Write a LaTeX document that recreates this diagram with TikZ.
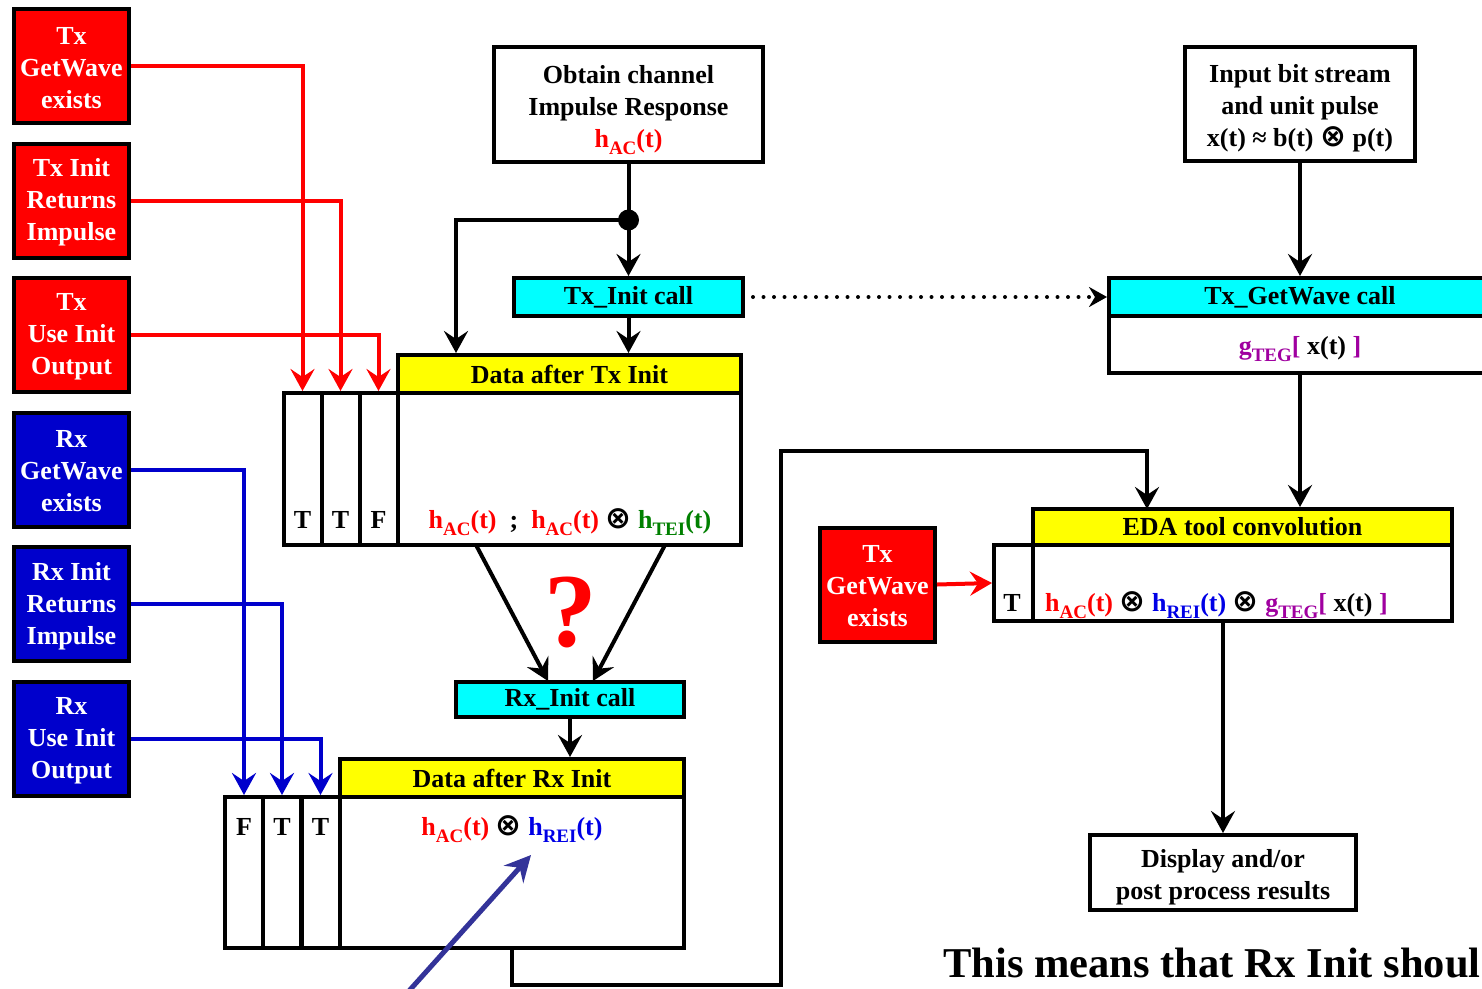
\documentclass[tikz,border=0pt]{standalone}
\usepackage{fontspec}
\setmainfont{Liberation Serif}
\newfontfamily\symf{DejaVu Sans}
\usetikzlibrary{arrows.meta,calc}
\definecolor{bluefill}{RGB}{0,0,204}
\definecolor{myred}{RGB}{255,0,0}
\definecolor{mygreen}{RGB}{0,128,0}
\definecolor{myblue}{RGB}{0,0,230}
\definecolor{mypurple}{RGB}{160,0,160}
\definecolor{navyarrow}{RGB}{51,51,153}
\definecolor{mycyan}{RGB}{0,255,255}
\definecolor{myyellow}{RGB}{255,255,0}
\newcommand{\lsub}[1]{\raisebox{-7pt}{\fontsize{19}{19}\selectfont #1}}
\newcommand{\otm}{{\symf\bfseries\fontsize{31}{31}\selectfont ⊗}}
\newcommand{\hac}{\textcolor{myred}{h\lsub{AC}(t)}}
\newcommand{\tstr}[1]{\rule{0pt}{#1}}
\begin{document}
\begin{tikzpicture}[x=1pt,y=-1pt,
  every node/.style={inner sep=0pt, font=\fontsize{26}{32}\selectfont\bfseries},
  box/.style={draw, line width=4pt, align=center, fill=white},
  redbox/.style={box, fill=myred, text=white, minimum width=115pt, minimum height=114pt},
  bluebox/.style={redbox, fill=bluefill},
  callbox/.style={box, fill=mycyan},
  headbox/.style={box, fill=myyellow},
  flagbox/.style={box},
  flow/.style={line width=4pt, -{Stealth[length=22pt,width=24pt,inset=8pt]}},
  redflow/.style={flow, draw=myred, -{Stealth[length=22pt,width=24pt,inset=8pt,fill=myred]}},
  blueflow/.style={flow, draw=bluefill},
  navyflow/.style={line width=5pt, draw=navyarrow, -{Stealth[length=26pt,width=26pt,inset=9pt]}},
  dotflow/.style={line width=4pt, line cap=round, dash pattern=on 0pt off 10.5pt, -{Stealth[length=18pt,width=20pt,inset=6pt]}}
]
\useasboundingbox (0,0) rectangle (1482,988);
\clip (0,0) rectangle (1482,988);

% left condition boxes
\node[redbox] (txgw) at (71.5,66) {\tstr{21pt}Tx\\GetWave\\exists};
\node[redbox] (txir) at (71.5,200.5) {\tstr{22pt}Tx Init\\Returns\\Impulse};
\node[redbox] (txuo) at (71.5,335) {\tstr{21pt}Tx\\Use Init\\Output};
\node[bluebox] (rxgw) at (71.5,469.5) {\tstr{21pt}Rx\\GetWave\\exists};
\node[bluebox] (rxir) at (71.5,604) {\tstr{22pt}Rx Init\\Returns\\Impulse};
\node[bluebox] (rxuo) at (71.5,738.5) {\tstr{21pt}Rx\\Use Init\\Output};

% top boxes
\node[box, minimum width=269pt, minimum height=115pt] (obtain) at (628.5,104.5) {\tstr{29pt}Obtain channel\\Impulse Response\\\hac};
\node[box, minimum width=230pt, minimum height=114pt] (input) at (1300,104) {\tstr{27pt}Input bit stream\\and unit pulse\\x(t) ≈ b(t) \otm\ p(t)};
\node[callbox, minimum width=229pt, minimum height=38pt] (txinit) at (628.5,297) {Tx\_Init call};
\node[callbox, minimum width=382pt, minimum height=38pt] (txgwc) at (1300,297) {Tx\_GetWave call};
\node[box, minimum width=382pt, minimum height=57pt] (txgwb) at (1300,344.5) {\tstr{27pt}\textcolor{mypurple}{g\lsub{TEG}[} x(t) \textcolor{mypurple}{]}};

% data after Tx Init
\node[headbox, minimum width=343pt, minimum height=38pt] (txdh) at (569.5,374) {Data after Tx Init};
\node[box, minimum width=343pt, minimum height=152pt] (txdb) at (569.5,469) {};
\node[flagbox, minimum width=38pt, minimum height=152pt] (tf1) at (302.5,469) {};
\node[flagbox, minimum width=38pt, minimum height=152pt] (tf2) at (340.5,469) {};
\node[flagbox, minimum width=38pt, minimum height=152pt] (tf3) at (378.5,469) {};
\node[anchor=base] (tl1) at (302.5,528) {T};
\node[anchor=base] (tl2) at (340.5,528) {T};
\node[anchor=base] (tl3) at (378.5,528) {F};
\node[anchor=base] (txf) at (570,528) {\hac\ \ ;\ \ \hac\ \otm\ \textcolor{mygreen}{h\lsub{TEI}(t)}};

% question and Rx init call
\node[text=myred, font=\fontsize{105}{105}\selectfont\bfseries] (qm) at (571,612) {?};
\node[callbox, minimum width=228pt, minimum height=35pt] (rxinit) at (570,699.5) {Rx\_Init call};

% data after Rx Init
\node[headbox, minimum width=344pt, minimum height=38pt] (rxdh) at (512,778) {Data after Rx Init};
\node[box, minimum width=344pt, minimum height=151pt] (rxdb) at (512,872.5) {};
\node[flagbox, minimum width=38pt, minimum height=151pt] (rf1) at (244,872.5) {};
\node[flagbox, minimum width=38pt, minimum height=151pt] (rf2) at (282,872.5) {};
\node[flagbox, minimum width=38pt, minimum height=151pt] (rf3) at (320.5,872.5) {};
\node[anchor=base] (rl1) at (244,835) {F};
\node[anchor=base] (rl2) at (282,835) {T};
\node[anchor=base] (rl3) at (320.5,835) {T};
\node[anchor=base] (rxf) at (512,835) {\hac\ \otm\ \textcolor{myblue}{h\lsub{REI}(t)}};

% EDA block
\node[headbox, minimum width=419pt, minimum height=36pt] (edah) at (1242.5,527) {EDA tool convolution};
\node[box, minimum width=419pt, minimum height=76pt] (edab) at (1242.5,583) {};
\node[flagbox, minimum width=39pt, minimum height=76pt] (edaf) at (1013.5,583) {};
\node[anchor=base] (edat) at (1012,611) {T};
\node[anchor=base west] (edaform) at (1045,611) {\hac\ \otm\ \textcolor{myblue}{h\lsub{REI}(t)}\ \otm\ \textcolor{mypurple}{g\lsub{TEG}[} x(t) \textcolor{mypurple}{]}};
\node[redbox] (txgw2) at (877.5,584.5) {\tstr{21pt}Tx\\GetWave\\exists};
\node[box, minimum width=266pt, minimum height=75pt] (disp) at (1223,872.5) {\tstr{27pt}Display and/or\\post process results};

\node[anchor=base west, font=\fontsize{42.5}{50}\selectfont\bfseries] (note) at (943,977) {This means that Rx Init shoul};

% connectors
\coordinate (split) at (628.5,220);
\coordinate (txin) at (456,353);
\draw[line width=4pt] (obtain.south) -- (split);
\draw[flow] (split) -- (txinit.north);
\draw[flow] (split) -| (txin);
\fill (split) circle (10.5pt);
\draw[flow] (txinit.south) -- (txinit.south |- txdh.north);
\draw[dotflow, shorten <=8pt] (txinit.east) -- (txgwc.west);
\draw[flow] (input.south) -- (txgwc.north);
\draw[flow] (txgwb.south) -- (txgwb.south |- edah.north);

\coordinate (tq1) at (476,545);
\coordinate (tq2) at (665,545);
\coordinate (rq1) at (548,681);
\coordinate (rq2) at (593,681);
\draw[flow] (tq1) -- (rq1);
\draw[flow] (tq2) -- (rq2);
\draw[flow] (rxinit.south) -- (rxinit.south |- rxdh.north);

\coordinate (c1) at (781,985);
\coordinate (c2) at (1147,451);
\coordinate (edain) at (1147,509);
\draw[flow] (rxdb.south) |- (c1) |- (c2) -- (edain);

\draw[redflow] (txgw.east) -| (tf1.north);
\draw[redflow] (txir.east) -| (tf2.north);
\draw[redflow] (txuo.east) -| (tf3.north);
\draw[blueflow] (rxgw.east) -| (rf1.north);
\draw[blueflow] (rxir.east) -| (rf2.north);
\draw[blueflow] (rxuo.east) -| (rf3.north);
\draw[redflow] (txgw2.east) -- (edaf.west);
\draw[flow] (edab.south -| disp.north) -- (disp.north);

\coordinate (nvs) at (408,992);
\coordinate (nve) at (531,855);
\draw[navyflow] (nvs) -- (nve);
\end{tikzpicture}
\end{document}
